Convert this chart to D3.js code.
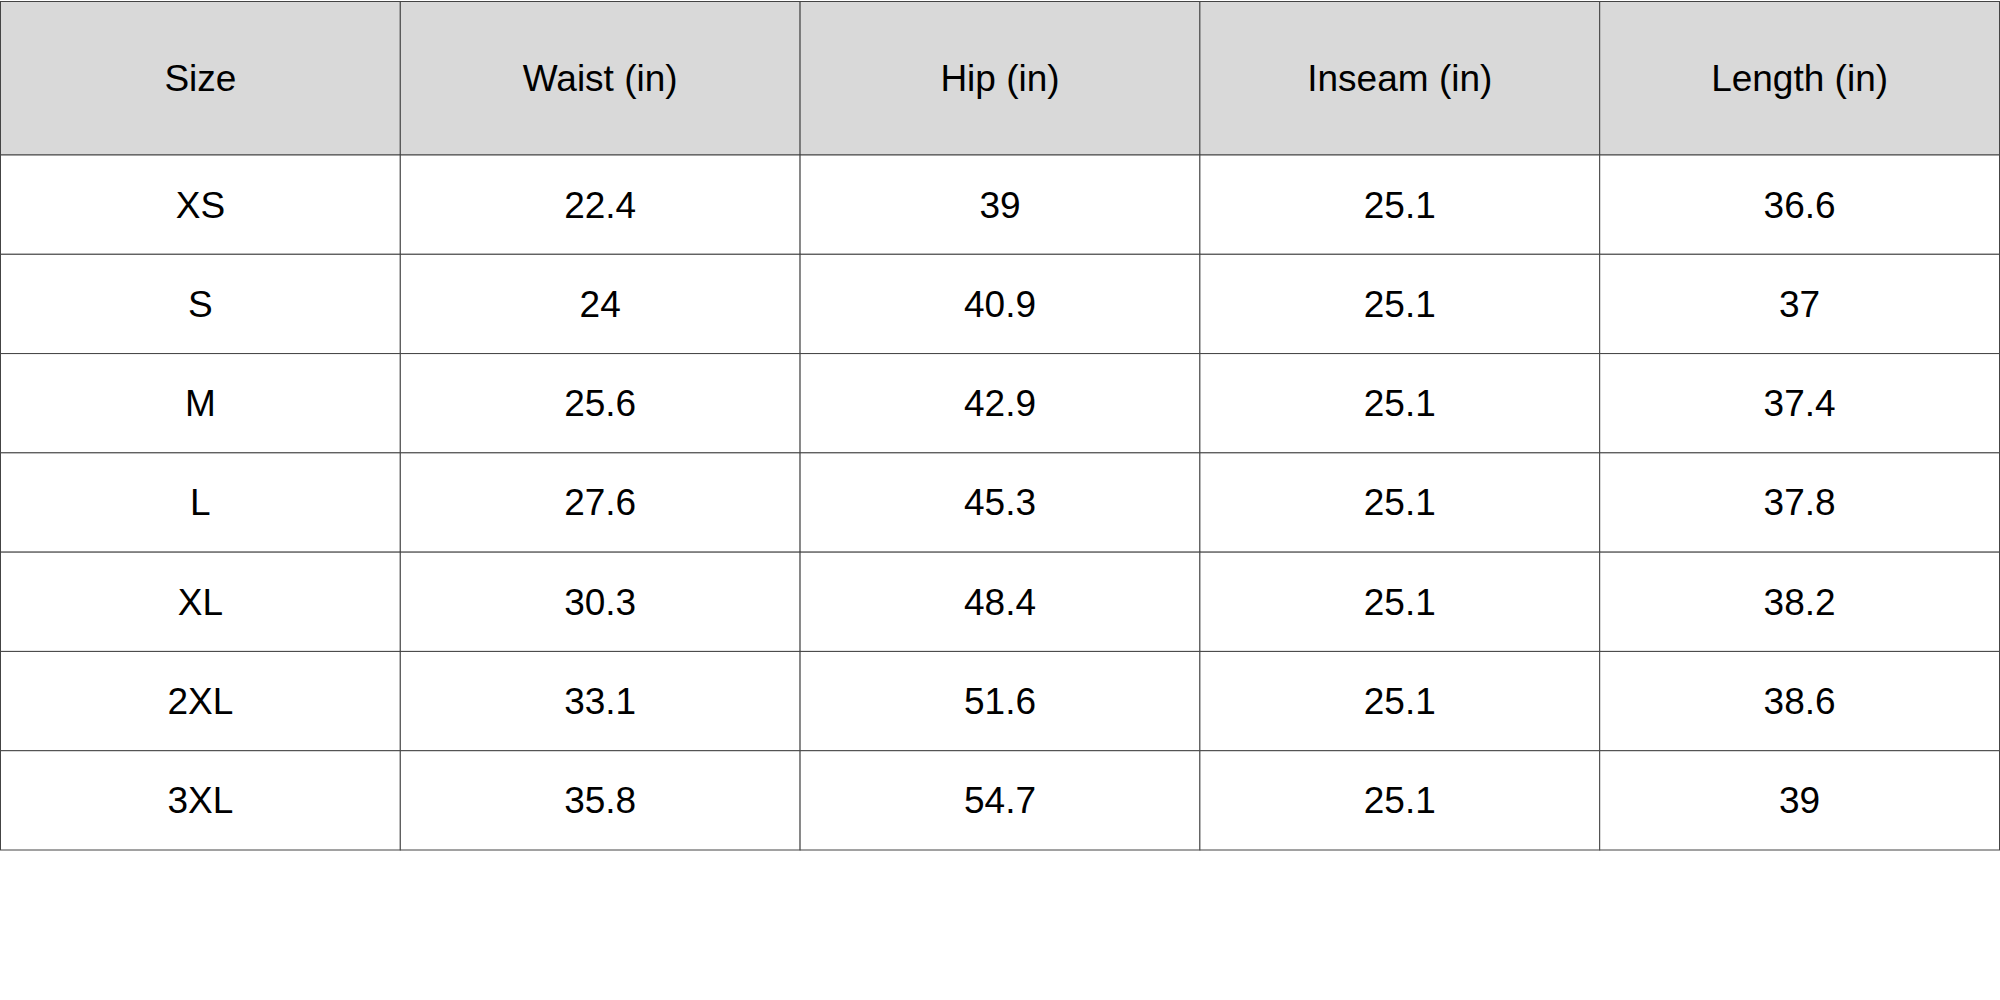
<!DOCTYPE html>
<html><head><meta charset="utf-8">
<script src="https://cdn.jsdelivr.net/npm/d3@7"></script>
<style>body{margin:0;background:#fff}</style>
</head><body><div id="chart"></div>
<script>
const columns = ["Size", "Waist (in)", "Hip (in)", "Inseam (in)", "Length (in)"];
const sizes = ["XS", "S", "M", "L", "XL", "2XL", "3XL"];
const waist = ["22.4", "24", "25.6", "27.6", "30.3", "33.1", "35.8"];
const hip = ["39", "40.9", "42.9", "45.3", "48.4", "51.6", "54.7"];
const inseam = ["25.1", "25.1", "25.1", "25.1", "25.1", "25.1", "25.1"];
const length = ["36.6", "37", "37.4", "37.8", "38.2", "38.6", "39"];

const width = 2000, height = 1000;
const rows = sizes.map((s, i) => [s, waist[i], hip[i], inseam[i], length[i]]);

const svg = d3.select("#chart").append("svg")
  .attr("width", width).attr("height", height);

const x = d3.scaleBand().domain(d3.range(columns.length)).range([0.5, 1999.5]);
const headerTop = 1.5, headerBottom = 155;
const y = d3.scaleBand().domain(d3.range(rows.length)).range([headerBottom, 850]);

// header
const header = svg.append("g");
header.selectAll("rect").data(columns).enter().append("rect")
  .attr("x", (d, i) => x(i)).attr("y", headerTop)
  .attr("width", x.bandwidth()).attr("height", headerBottom - headerTop)
  .attr("fill", "#d9d9d9").attr("stroke", "#444").attr("stroke-width", 1);
header.selectAll("text").data(columns).enter().append("text")
  .attr("x", (d, i) => x(i) + x.bandwidth() / 2)
  .attr("y", (headerTop + headerBottom) / 2)
  .attr("text-anchor", "middle").attr("dy", "0.35em")
  .attr("font-family", "Liberation Sans, Arial, sans-serif")
  .attr("font-size", 37).attr("fill", "#000")
  .text(d => d);

// body
const body = svg.append("g");
rows.forEach((row, r) => {
  row.forEach((v, c) => {
    body.append("rect")
      .attr("x", x(c)).attr("y", y(r))
      .attr("width", x.bandwidth()).attr("height", y.bandwidth())
      .attr("fill", "#fff").attr("stroke", "#444").attr("stroke-width", 1);
    body.append("text")
      .attr("x", x(c) + x.bandwidth() / 2)
      .attr("y", y(r) + y.bandwidth() / 2)
      .attr("text-anchor", "middle").attr("dy", "0.35em")
      .attr("font-family", "Liberation Sans, Arial, sans-serif")
      .attr("font-size", 37).attr("fill", "#000")
      .text(v);
  });
});
</script>
</body></html>
